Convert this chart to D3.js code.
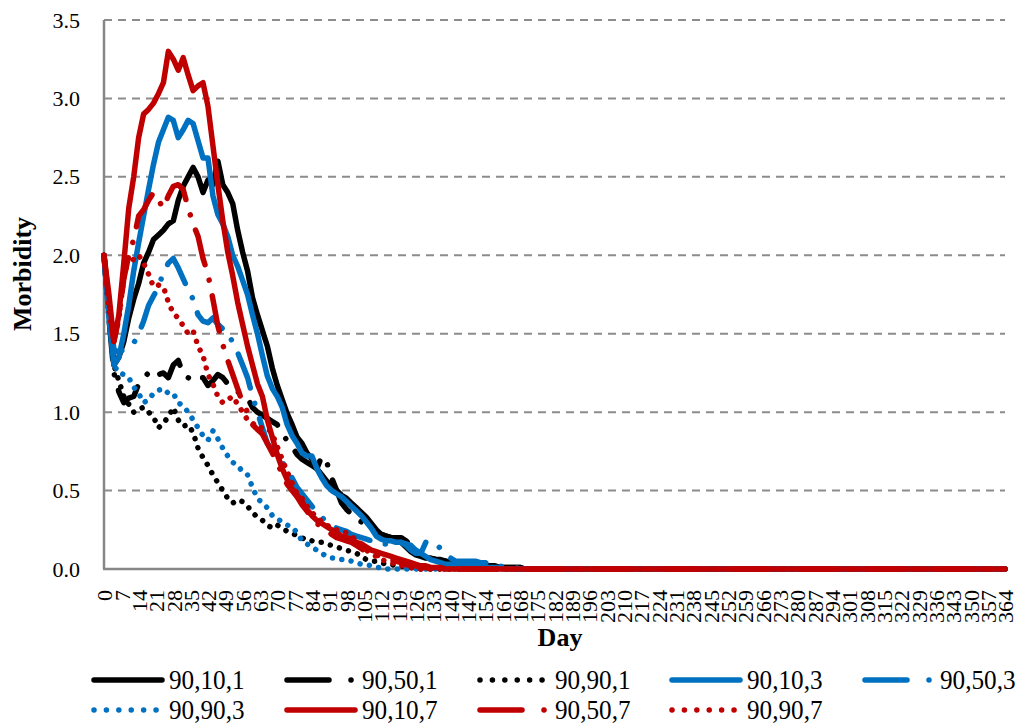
<!DOCTYPE html>
<html lang="en">
<head>
<meta charset="utf-8">
<script src="https://cdnjs.cloudflare.com/ajax/libs/d3/7.8.5/d3.min.js"></script>
<style>
  body { margin: 0; background: #fff; }
  svg { display: block; }
  text { font-family: 'Liberation Serif', 'Times New Roman', serif; fill: #000; }
</style>
</head>
<body>
<svg id="chart"></svg>
<script>
// days sampled every 2 days while the epidemic runs, then the end of the year
const days = d3.range(0, 174, 2).concat([364])

// 90,10,1
const s90_10_1 = [
  2.0, 1.65, 1.3, 1.35, 1.45, 1.6, 1.72, 1.82, 1.95, 2.02,
  2.1, 2.13, 2.16, 2.2, 2.22, 2.35, 2.44, 2.5, 2.56, 2.5,
  2.4, 2.48, 2.45, 2.6, 2.45, 2.4, 2.33, 2.16, 2.02, 1.9,
  1.73, 1.62, 1.52, 1.42, 1.28, 1.17, 1.08, 0.99, 0.92, 0.84,
  0.8, 0.74, 0.7, 0.64, 0.6, 0.56, 0.53, 0.5, 0.47, 0.45,
  0.42, 0.39, 0.36, 0.33, 0.29, 0.25, 0.22, 0.21, 0.2, 0.19,
  0.17, 0.14, 0.11, 0.09, 0.08, 0.07, 0.07, 0.06, 0.06, 0.05,
  0.04, 0.04, 0.03, 0.03, 0.03, 0.02, 0.02, 0.02, 0.02, 0.02,
  0.01, 0.01, 0.01, 0.01, 0.01, 0, 0,
  0]
// 90,50,1
const s90_50_1 = [
  2.0, 1.6, 1.25, 1.13, 1.06, 1.09, 1.1, 1.18, 1.22, 1.25,
  1.22, 1.24, 1.25, 1.22, 1.3, 1.33, 1.24, 1.22, 1.2, 1.22,
  1.22, 1.17, 1.2, 1.24, 1.22, 1.18, 1.15, 1.13, 1.11, 1.09,
  1.03, 1.0, 0.98, 0.96, 0.94, 0.92, 0.86, 0.82, 0.78, 0.73,
  0.7, 0.68, 0.66, 0.64, 0.72, 0.68, 0.58, 0.5, 0.42, 0.38,
  0.35, 0.32, 0.3, 0.27, 0.25, 0.23, 0.22, 0.21, 0.2, 0.2,
  0.2, 0.18, 0.15, 0.12, 0.1, 0.08, 0.07, 0.06, 0.05, 0.05,
  0.04, 0.04, 0.03, 0.03, 0.02, 0.02, 0.02, 0.02, 0.02, 0.02,
  0.01, 0.01, 0.01, 0.01, 0.01, 0, 0,
  0]
// 90,90,1
const s90_90_1 = [
  2.0, 1.6, 1.3, 1.2, 1.1, 1.05, 1.0, 1.02, 1.03, 1.0,
  0.97, 0.9, 0.93, 0.97, 1.03, 0.95, 0.91, 0.92, 0.87, 0.77,
  0.71, 0.66, 0.6, 0.55, 0.5, 0.45, 0.42, 0.44, 0.43, 0.4,
  0.36, 0.33, 0.31, 0.28, 0.26, 0.28, 0.26, 0.24, 0.23, 0.21,
  0.2, 0.18, 0.18, 0.17, 0.17, 0.16, 0.15, 0.14, 0.13, 0.12,
  0.11, 0.1, 0.08, 0.06, 0.05, 0.05, 0.04, 0.03, 0.03, 0.02,
  0.02, 0.01, 0.01, 0, 0, 0, 0, 0, 0, 0,
  0, 0, 0, 0, 0, 0, 0, 0, 0, 0,
  0, 0, 0, 0, 0, 0, 0,
  0]
// 90,10,3
const s90_10_3 = [
  2.0, 1.6, 1.3, 1.35, 1.5, 1.68, 1.9, 2.08, 2.25, 2.42,
  2.58, 2.72, 2.8, 2.88, 2.86, 2.75, 2.8, 2.86, 2.84, 2.73,
  2.62, 2.62, 2.38, 2.26, 2.2, 2.12, 2.0, 1.93, 1.84, 1.75,
  1.62, 1.5, 1.36, 1.23, 1.15, 1.1, 1.03, 0.92, 0.85, 0.8,
  0.74, 0.72, 0.72, 0.64, 0.58, 0.53, 0.5, 0.48, 0.46, 0.43,
  0.4, 0.37, 0.34, 0.3, 0.26, 0.21, 0.19, 0.18, 0.18, 0.17,
  0.17, 0.16, 0.15, 0.12, 0.1, 0.08, 0.06, 0.05, 0.04, 0.03,
  0.03, 0.02, 0.02, 0.02, 0.02, 0.02, 0.01, 0.01, 0.01, 0.01,
  0.01, 0, 0, 0, 0, 0, 0,
  0]
// 90,50,3
const s90_50_3 = [
  2.0, 1.65, 1.4, 1.38, 1.4, 1.42, 1.44, 1.5, 1.58, 1.68,
  1.74, 1.8, 1.89, 1.95, 1.98, 1.92, 1.85, 1.78, 1.72, 1.62,
  1.58, 1.57, 1.6, 1.56, 1.53, 1.52, 1.44, 1.38, 1.3, 1.22,
  1.1, 1.0, 0.9, 0.8, 0.76, 0.72, 0.68, 0.63, 0.58, 0.52,
  0.48, 0.44, 0.4, 0.36, 0.33, 0.3, 0.28, 0.26, 0.25, 0.24,
  0.22, 0.21, 0.2, 0.19, 0.18, 0.17, 0.16, 0.16, 0.15, 0.16,
  0.17, 0.15, 0.12, 0.1, 0.1, 0.17, 0.18, 0.16, 0.13, 0.1,
  0.07, 0.05, 0.05, 0.05, 0.05, 0.05, 0.04, 0.04, 0.03, 0.03,
  0.02, 0.01, 0.01, 0.01, 0, 0, 0,
  0]
// 90,90,3
const s90_90_3 = [
  2.0, 1.6, 1.3, 1.25, 1.24, 1.22, 1.16, 1.12, 1.06, 1.08,
  1.12, 1.14, 1.15, 1.12, 1.12, 1.06, 1.04, 1.0, 0.95, 0.9,
  0.85, 0.82, 0.88, 0.83, 0.77, 0.72, 0.68, 0.66, 0.62, 0.6,
  0.52, 0.45, 0.42, 0.39, 0.34, 0.32, 0.3, 0.28, 0.27, 0.23,
  0.18, 0.16, 0.14, 0.12, 0.1, 0.08, 0.07, 0.07, 0.06, 0.06,
  0.05, 0.04, 0.03, 0.03, 0.02, 0.01, 0.01, 0, 0, 0,
  0, 0, 0, 0, 0, 0, 0, 0, 0, 0,
  0, 0, 0, 0, 0, 0, 0, 0, 0, 0,
  0, 0, 0, 0, 0, 0, 0,
  0]
// 90,10,7
const s90_10_7 = [
  2.0, 1.75, 1.45, 1.62, 1.95, 2.3, 2.5, 2.75, 2.9, 2.93,
  2.97, 3.03, 3.1, 3.3, 3.25, 3.18, 3.26, 3.15, 3.05, 3.08,
  3.1, 2.95, 2.7, 2.45, 2.22, 2.02, 1.87, 1.7, 1.56, 1.42,
  1.3, 1.18, 1.1, 0.95, 0.84, 0.73, 0.64, 0.57, 0.51, 0.47,
  0.43, 0.38, 0.34, 0.31, 0.29, 0.27, 0.25, 0.23, 0.21, 0.2,
  0.19, 0.17, 0.16, 0.14, 0.12, 0.11, 0.1, 0.09, 0.08, 0.07,
  0.06, 0.05, 0.04, 0.03, 0.02, 0.02, 0.01, 0.01, 0.01, 0,
  0, 0, 0, 0, 0, 0, 0, 0, 0, 0,
  0, 0, 0, 0, 0, 0, 0,
  0]
// 90,50,7
const s90_50_7 = [
  2.0, 1.7, 1.45, 1.6, 1.85, 2.0, 2.1, 2.25, 2.29, 2.35,
  2.4, 2.35, 2.3, 2.38, 2.44, 2.45, 2.42, 2.3, 2.2, 2.12,
  1.98, 1.88, 1.72, 1.55, 1.43, 1.33, 1.24, 1.15, 1.06, 1.0,
  0.92, 0.89, 0.86, 0.8, 0.74, 0.68, 0.6, 0.54, 0.5, 0.46,
  0.41, 0.37, 0.32, 0.29, 0.27, 0.25, 0.22, 0.2, 0.19, 0.18,
  0.17, 0.15, 0.13, 0.11, 0.1, 0.09, 0.08, 0.07, 0.06, 0.05,
  0.04, 0.03, 0.02, 0.02, 0.01, 0.01, 0, 0, 0, 0,
  0, 0, 0, 0, 0, 0, 0, 0, 0, 0,
  0, 0, 0, 0, 0, 0, 0,
  0]
// 90,90,7
const s90_90_7 = [
  2.0, 1.65, 1.45, 1.6, 1.85, 2.0, 1.97, 2.0, 1.95, 1.88,
  1.8, 1.81, 1.8, 1.7, 1.63, 1.6, 1.55, 1.5, 1.52, 1.42,
  1.36, 1.24, 1.18, 1.1, 1.06, 1.08, 1.1, 1.05, 1.0, 0.95,
  0.93, 0.9, 0.9, 0.9, 0.86, 0.78, 0.7, 0.62, 0.55, 0.48,
  0.45, 0.4, 0.36, 0.33, 0.3, 0.28, 0.26, 0.25, 0.24, 0.23,
  0.21, 0.18, 0.15, 0.12, 0.1, 0.08, 0.06, 0.05, 0.04, 0.03,
  0.02, 0.02, 0.01, 0, 0, 0, 0, 0, 0, 0,
  0, 0, 0, 0, 0, 0, 0, 0, 0, 0,
  0, 0, 0, 0, 0, 0, 0,
  0]

const seriesNames = ['90,10,1', '90,50,1', '90,90,1', '90,10,3', '90,50,3', '90,90,3', '90,10,7', '90,50,7', '90,90,7']
const seriesValues = [s90_10_1, s90_50_1, s90_90_1, s90_10_3, s90_50_3, s90_90_3, s90_10_7, s90_50_7, s90_90_7]

const yTicks = [0, 0.5, 1.0, 1.5, 2.0, 2.5, 3.0, 3.5]
const xTicks = d3.range(0, 365, 7)

// look of each series: colour by last number, dash by middle number
const colors = { '1': '#000000', '3': '#0070c0', '7': '#c00000' }
const lineW = 5.5
function dashFor(name, legend) {
    const mid = name.split(',')[1]
    if (mid === '10') return null
    if (mid === '50') return legend ? '42,22,0.01,100' : '36,16,0.01,16'
    return legend ? '0.01,12.4' : '0.01,9.5'
}

const w = 1019, h = 726
const mLeft = 104, mRight = 1005, mTop = 20, mBottom = 569

const svg = d3.select('#chart').attr('width', w).attr('height', h)

const x = d3.scaleLinear().domain([0, 364]).range([mLeft, mRight])
const y = d3.scaleLinear().domain([0, 3.5]).range([mBottom, mTop])

// gridlines
svg.append('g')
    .selectAll('line')
    .data(yTicks.filter(d => d > 0))
    .enter()
    .append('line')
    .attr('x1', mLeft).attr('x2', mRight)
    .attr('y1', d => y(d)).attr('y2', d => y(d))
    .attr('stroke', '#8c8c8c')
    .attr('stroke-width', 2)
    .attr('stroke-dasharray', '8,6')

// y axis
const yAxis = d3.axisLeft(y).tickValues(yTicks).tickSize(0).tickPadding(24).tickFormat(d3.format('.1f'))
const gy = svg.append('g').attr('transform', 'translate(' + mLeft + ',0)').call(yAxis)
gy.select('.domain').remove()
gy.selectAll('text').style('font-size', '22px').style('font-family', "'Liberation Serif', serif")

// x axis
const xAxis = d3.axisBottom(x).tickValues(xTicks).tickSize(0)
const gx = svg.append('g').attr('transform', 'translate(0,' + mBottom + ')').call(xAxis)
gx.select('.domain').remove()
gx.selectAll('text')
    .attr('transform', 'rotate(-90)')
    .attr('x', -21)
    .attr('y', 0)
    .attr('dy', '0.35em')
    .style('text-anchor', 'end')
    .style('font-size', '22px')
    .style('font-family', "'Liberation Serif', serif")

// axis lines
svg.append('line').attr('x1', mLeft).attr('x2', mLeft).attr('y1', mTop).attr('y2', mBottom)
    .attr('stroke', '#868686').attr('stroke-width', 2.5)
svg.append('line').attr('x1', mLeft - 1).attr('x2', mRight).attr('y1', mBottom).attr('y2', mBottom)
    .attr('stroke', '#868686').attr('stroke-width', 2.5)

// series
const line = d3.line()
    .defined(d => d.v != null)
    .x(d => x(d.day))
    .y(d => y(d.v))

seriesNames.forEach((name, i) => {
    const pts = days.map((day, j) => ({ day: day, v: seriesValues[i][j] }))
    svg.append('path')
        .datum(pts)
        .attr('d', line)
        .attr('fill', 'none')
        .attr('stroke', colors[name.split(',')[2]])
        .attr('stroke-width', lineW)
        .attr('stroke-linejoin', 'round')
        .attr('stroke-linecap', 'round')
        .attr('stroke-dasharray', dashFor(name, false))
})

// axis titles
svg.append('text')
    .attr('x', 560).attr('y', 646)
    .attr('text-anchor', 'middle')
    .style('font-size', '26px').style('font-weight', 'bold')
    .text('Day')
svg.append('text')
    .attr('transform', 'translate(31,274) rotate(-90)')
    .attr('text-anchor', 'middle')
    .style('font-size', '26px').style('font-weight', 'bold')
    .text('Morbidity')

// legend
const legCols = [92, 285, 478, 670, 863]
const legRows = [680, 710]
const leg = svg.append('g')
seriesNames.forEach((name, i) => {
    const cx = legCols[i % 5], cy = legRows[Math.floor(i / 5)]
    leg.append('line')
        .attr('x1', cx + 2).attr('x2', cx + 70)
        .attr('y1', cy).attr('y2', cy)
        .attr('stroke', colors[name.split(',')[2]])
        .attr('stroke-width', lineW)
        .attr('stroke-linecap', 'round')
        .attr('stroke-dasharray', dashFor(name, true))
    leg.append('text')
        .attr('transform', 'translate(' + (cx + 77) + ',' + (cy + 9) + ') scale(0.9,1)')
        .style('font-size', '28px')
        .text(name)
})
</script>
</body>
</html>
